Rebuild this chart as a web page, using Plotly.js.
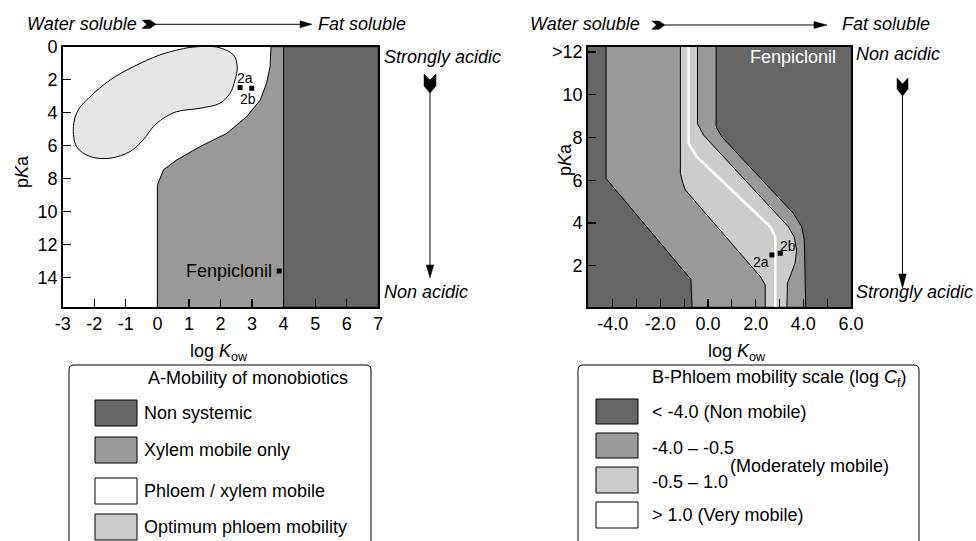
<!DOCTYPE html>
<html>
<head>
<meta charset="utf-8">
<script src="https://cdn.plot.ly/plotly-3.0.1.min.js"></script>
<style>html,body{margin:0;padding:0;background:#fff;}#chart{width:976px;height:541px;}</style>
</head>
<body>
<div id="chart"></div>
<script>
// ---------- Panel A data (log Kow vs pKa) ----------
var aNonSysX = [4, 7, 7, 4];
var aNonSysY = [0, 0, 15.8, 15.8];
var aXylemX = [0, 0, 0.19, 0.61, 1.35, 2.2, 2.83, 3.26, 3.46, 3.57, 3.6, 4, 4];
var aXylemY = [15.8, 8.4, 7.47, 6.87, 6.06, 5.25, 4.24, 3.23, 2.22, 1.21, 0, 0, 15.8];
var aOptX = [1.14, 1.88, 2.41, 2.53, 2.46, 2.30, 1.98, 1.35, 0.61, 0.19, -0.13, -0.45, -0.87, -1.50, -2.13, -2.56, -2.66, -2.51, -2.13, -1.50, -0.76, 0.08, 0.72, 1.14];
var aOptY = [0.02, 0.02, 0.50, 1.21, 2.02, 2.83, 3.43, 3.73, 3.94, 4.34, 4.85, 5.65, 6.36, 6.76, 6.66, 6.06, 4.85, 3.84, 3.03, 2.02, 1.21, 0.50, 0.16, 0.02];
var aPointNames = ['2a', '2b', 'Fenpiclonil'];
var aPointX = [2.62, 2.99, 3.86];
var aPointY = [2.48, 2.52, 13.6];
var aXTicks = [-3, -2, -1, 0, 1, 2, 3, 4, 5, 6, 7];
var aYTicks = [0, 2, 4, 6, 8, 10, 12, 14];

// ---------- Panel B data (phloem mobility scale) ----------
var bB1X = [-4.28, -4.28, -0.72, -0.67];
var bB1Y = [12.25, 6.08, 1.36, 0.05];
var bB2X = [-1.16, -1.16, -1.05, -0.95, -0.47, 2.19, 2.40, 2.40];
var bB2Y = [12.25, 6.32, 5.85, 5.54, 4.92, 1.49, 1.10, 0.05];
var bB3X = [-0.44, -0.44, -0.19, 3.37, 3.61, 3.72, 3.65, 3.47, 3.33, 3.31, 3.31];
var bB3Y = [12.25, 8.65, 8.11, 3.82, 3.36, 2.73, 2.11, 1.57, 1.18, 0.87, 0.05];
var bB4X = [0.34, 0.34, 0.58, 3.58, 3.93, 4.04, 4.07, 4.10];
var bB4Y = [12.25, 8.5, 8.03, 4.45, 3.82, 3.20, 2.58, 0.05];
var bWhiteX = [-0.82, -0.82, -0.47, 2.61, 2.82, 2.82];
var bWhiteY = [12.25, 7.72, 7.09, 3.82, 3.36, 0.05];
var bPointNames = ['2a', '2b', 'Fenpiclonil'];
var bPointX = [2.68, 3.03, 3.61];
var bPointY = [2.50, 2.58, 12.28];
var bXTicks = [-4, -2, 0, 2, 4, 6];
var bXTickText = ['-4.0', '-2.0', '0.0', '2.0', '4.0', '6.0'];
var bXMinorTicks = [-3, -1, 1, 3, 5];
var bYTicks = [2, 4, 6, 8, 10, 12];
var bYTickText = ['2', '4', '6', '8', '10', '&gt;12'];

// ---------- Legend texts ----------
var legATitle = 'A-Mobility of monobiotics';
var legALabels = ['Non systemic', 'Xylem mobile only', 'Phloem / xylem mobile', 'Optimum phloem mobility'];
var legAColors = ['#666666', '#999999', '#ffffff', '#cccccc'];
var legBTitle = 'B-Phloem mobility scale (log <i>C</i><sub>f</sub>)';
var legBLabels = ['&lt; -4.0 (Non mobile)', '-4.0 \u2013 -0.5', '-0.5 \u2013 1.0', '&gt; 1.0 (Very mobile)'];
var legBColors = ['#666666', '#999999', '#cccccc', '#ffffff'];

var W = 976, H = 541;
var FS = 18;
function PX(x){ return x / W; }
function PY(y){ return 1 - y / H; }
function path(pts, close){
  var s = '';
  for (var i = 0; i < pts.length; i++){
    s += (i === 0 ? 'M' : 'L') + PX(pts[i][0]).toFixed(5) + ',' + PY(pts[i][1]).toFixed(5);
  }
  return s + (close ? 'Z' : '');
}
var FONT = '"Liberation Sans", Arial, Helvetica, sans-serif';
var BLK = {color: '#000', width: 1};

var traces = [
  {x: aNonSysX, y: aNonSysY, xaxis: 'x', yaxis: 'y', mode: 'lines', fill: 'toself', fillcolor: '#666666', line: BLK, hoverinfo: 'skip'},
  {x: aXylemX, y: aXylemY, xaxis: 'x', yaxis: 'y', mode: 'lines', fill: 'toself', fillcolor: '#999999', line: BLK, hoverinfo: 'skip'},
  {x: aOptX, y: aOptY, xaxis: 'x', yaxis: 'y', mode: 'lines', fill: 'toself', fillcolor: '#e6e6e6', line: {color: '#000', width: 1, shape: 'spline', smoothing: 1}, hoverinfo: 'skip'},
  {x: aPointX, y: aPointY, text: aPointNames, xaxis: 'x', yaxis: 'y', mode: 'markers', marker: {symbol: 'square', size: 5, color: '#000'}, cliponaxis: false, hoverinfo: 'text'},
  // panel B
  {x: bB1X.concat(bB4X.slice().reverse()), y: bB1Y.concat(bB4Y.slice().reverse()), xaxis: 'x2', yaxis: 'y2', mode: 'lines', fill: 'toself', fillcolor: '#999999', line: BLK, hoverinfo: 'skip'},
  {x: bB2X.concat(bB3X.slice().reverse()), y: bB2Y.concat(bB3Y.slice().reverse()), xaxis: 'x2', yaxis: 'y2', mode: 'lines', fill: 'toself', fillcolor: '#cccccc', line: BLK, hoverinfo: 'skip'},
  {x: bWhiteX, y: bWhiteY, xaxis: 'x2', yaxis: 'y2', mode: 'lines', line: {color: '#ffffff', width: 2.5}, hoverinfo: 'skip'},
  {x: bPointX, y: bPointY, text: bPointNames, xaxis: 'x2', yaxis: 'y2', mode: 'markers', marker: {symbol: 'square', size: 5, color: '#000'}, cliponaxis: false, hoverinfo: 'text'}
];

var axisCommon = {
  showline: true, mirror: true, linecolor: '#000', linewidth: 1.5,
  ticks: 'inside', ticklen: 8, tickcolor: '#000', tickwidth: 1.2,
  showgrid: false, zeroline: false, fixedrange: true,
  tickfont: {family: FONT, size: FS, color: '#000'}, tickmode: 'array'
};
function ax(o){ var r = {}; for (var k in axisCommon) r[k] = axisCommon[k]; for (var k2 in o) r[k2] = o[k2]; return r; }

var yDom = [1 - 307.3 / H, 1 - 46.7 / H];
var layout = {
  width: W, height: H, margin: {l: 0, r: 0, t: 0, b: 0},
  paper_bgcolor: '#fff', plot_bgcolor: '#fff', showlegend: false,
  font: {family: FONT, size: FS, color: '#000'},
  xaxis: ax({domain: [62.7 / W, 378.3 / W], range: [-3, 7], tickvals: aXTicks, ticktext: aXTicks.map(String), anchor: 'y'}),
  yaxis: ax({domain: yDom, range: [15.8, 0], tickvals: aYTicks, ticktext: aYTicks.map(String), anchor: 'x'}),
  xaxis2: ax({domain: [587.7 / W, 851 / W], range: [-5.05, 6.0], tickvals: bXTicks, ticktext: bXTickText, anchor: 'y2',
    minor: {tickmode: 'array', tickvals: bXMinorTicks, ticks: 'inside', ticklen: 8, tickcolor: '#000', tickwidth: 1.2, showgrid: false}}),
  yaxis2: ax({domain: yDom, range: [0.05, 12.25], tickvals: bYTicks, ticktext: bYTickText, anchor: 'x2'}),
  shapes: [],
  annotations: []
};

// dark background of panel B
layout.shapes.push({type: 'rect', xref: 'x2 domain', yref: 'y2 domain', x0: 0, x1: 1, y0: 0, y1: 1, fillcolor: '#666666', line: {width: 0}, layer: 'below'});

function blackPath(pts, close, fill){
  layout.shapes.push({type: 'path', xref: 'paper', yref: 'paper', path: path(pts, close), fillcolor: fill || 'rgba(0,0,0,0)', line: {color: '#000', width: fill ? 0.5 : 1}});
}
// arrows panel A
blackPath([[142,20],[150,20],[156,24.3],[150,28.5],[142,28.5],[146.5,24.3]], true, '#000');
blackPath([[155,24.3],[304,24.3]], false);
blackPath([[300,20.8],[312,24.3],[300,27.8]], true, '#000');
blackPath([[424,74],[430,80],[436,74],[436,86],[430,93],[424,86]], true, '#000');
blackPath([[430,92],[430,267]], false);
blackPath([[426.3,265],[430,278],[433.7,265]], true, '#000');
// arrows panel B
blackPath([[652,21],[659,21],[665,25],[659,29.3],[652,29.3],[656.5,25]], true, '#000');
blackPath([[665,25],[820,25]], false);
blackPath([[814,21.5],[827,25],[814,28.5]], true, '#000');
blackPath([[897,78],[902.5,84],[908,78],[908,89],[902.5,96],[897,89]], true, '#000');
blackPath([[902.5,95],[902.5,276]], false);
blackPath([[898.7,274],[902.5,288],[906.3,274]], true, '#000');

// legend boxes (rounded top corners, open bottom beyond the page)
function roundBox(x0, x1, y0, y1, r){
  var p = 'M' + PX(x0).toFixed(5) + ',' + PY(y1).toFixed(5) +
          'L' + PX(x0).toFixed(5) + ',' + PY(y0 + r).toFixed(5) +
          'Q' + PX(x0).toFixed(5) + ',' + PY(y0).toFixed(5) + ' ' + PX(x0 + r).toFixed(5) + ',' + PY(y0).toFixed(5) +
          'L' + PX(x1 - r).toFixed(5) + ',' + PY(y0).toFixed(5) +
          'Q' + PX(x1).toFixed(5) + ',' + PY(y0).toFixed(5) + ' ' + PX(x1).toFixed(5) + ',' + PY(y0 + r).toFixed(5) +
          'L' + PX(x1).toFixed(5) + ',' + PY(y1).toFixed(5);
  layout.shapes.push({type: 'path', xref: 'paper', yref: 'paper', path: p, line: {color: '#000', width: 1}});
}
roundBox(69, 371, 365, 560, 5);
roundBox(578, 919, 365, 560, 5);

function sw(x0, x1, y0, y1, col){
  layout.shapes.push({type: 'rect', xref: 'paper', yref: 'paper', x0: PX(x0), x1: PX(x1), y0: PY(y1), y1: PY(y0), fillcolor: col, line: {color: '#000', width: 1}});
}
var legARows = [[400,426],[437,463],[478,504],[514,540]];
var legBRows = [[399,424],[433,458],[467,493],[502,528]];
for (var i = 0; i < 4; i++){
  sw(95, 137, legARows[i][0], legARows[i][1], legAColors[i]);
  sw(596, 638, legBRows[i][0], legBRows[i][1], legBColors[i]);
}

function txt(s, x, y, xa, opts){
  var a = {text: s, xref: 'paper', yref: 'paper', x: PX(x), y: PY(y), xanchor: xa || 'center', yanchor: 'middle', showarrow: false, font: {family: FONT, size: FS, color: '#000'}};
  if (opts) for (var k in opts) a[k] = opts[k];
  layout.annotations.push(a);
}
// legend texts
txt(legATitle, 248, 378, 'center');
var legAY = [413, 450, 491, 527];
for (var j = 0; j < 4; j++) txt(legALabels[j], 142, legAY[j], 'left');
txt(legBTitle, 650, 378, 'left');
txt(legBLabels[0], 650, 412, 'left');
txt(legBLabels[1], 650, 448, 'left');
txt(legBLabels[2], 650, 482, 'left');
txt('(Moderately mobile)', 728, 466, 'left');
txt(legBLabels[3], 650, 515, 'left');

// axis titles
txt('log <i>K</i><sub>ow</sub>', 219, 352, 'center');
txt('log <i>K</i><sub>ow</sub>', 737, 352, 'center');
txt('p<i>K</i>a', 22, 172, 'center', {textangle: -90});
txt('p<i>K</i>a', 565, 160, 'center', {textangle: -90});

// direction labels
txt('<i>Water soluble</i>', 139, 24, 'right');
txt('<i>Fat soluble</i>', 316, 24, 'left');
txt('<i>Strongly acidic</i>', 382, 57, 'left');
txt('<i>Non acidic</i>', 382, 292, 'left');
txt('<i>Water soluble</i>', 642, 24, 'right');
txt('<i>Fat soluble</i>', 840, 24, 'left');
txt('<i>Non acidic</i>', 854, 54, 'left');
txt('<i>Strongly acidic</i>', 854, 292, 'left');

// point labels (data coordinates)
var smallFont = {family: FONT, size: 14, color: '#000'};
layout.annotations.push({text: aPointNames[0], xref: 'x', yref: 'y', x: 2.78, y: 1.9, showarrow: false, font: smallFont});
layout.annotations.push({text: aPointNames[1], xref: 'x', yref: 'y', x: 2.87, y: 3.17, showarrow: false, font: smallFont});
layout.annotations.push({text: aPointNames[2], xref: 'x', yref: 'y', x: 3.68, y: 13.6, xanchor: 'right', showarrow: false, font: {family: FONT, size: FS, color: '#000'}});
layout.annotations.push({text: bPointNames[0], xref: 'x2', yref: 'y2', x: 2.23, y: 2.19, showarrow: false, font: smallFont});
layout.annotations.push({text: bPointNames[1], xref: 'x2', yref: 'y2', x: 3.36, y: 2.93, showarrow: false, font: smallFont});
layout.annotations.push({text: bPointNames[2], xref: 'x2', yref: 'y2', x: 3.57, y: 11.75, showarrow: false, font: {family: FONT, size: FS, color: '#fff'}});

Plotly.newPlot('chart', traces, layout, {displayModeBar: false, staticPlot: true});
</script>
</body>
</html>
